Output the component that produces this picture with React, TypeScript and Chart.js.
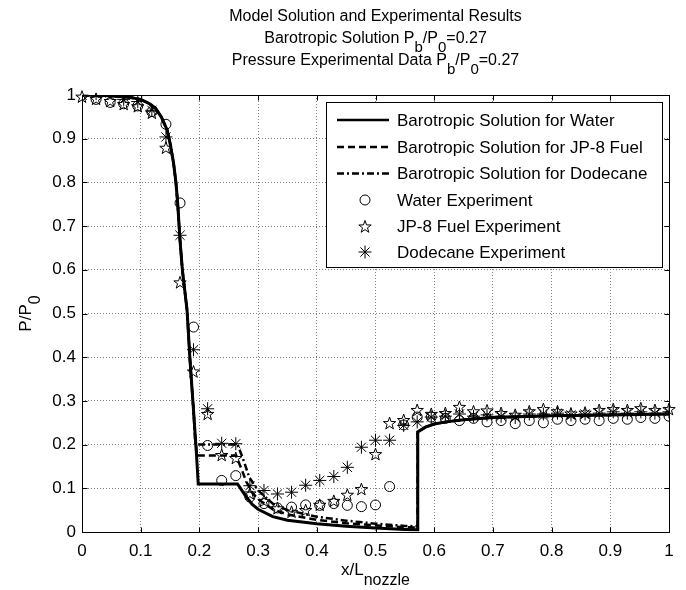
import React, { useEffect, useRef } from "react";
import { Chart, registerables } from "chart.js";

Chart.register(...registerables);

// ---------- data ----------
const SENSOR_X = [
  0, 0.024, 0.048, 0.071, 0.095, 0.119, 0.143, 0.167, 0.19, 0.214, 0.238, 0.262, 0.286, 0.31, 0.333,
  0.357, 0.381, 0.405, 0.429, 0.452, 0.476, 0.5, 0.524, 0.548, 0.571, 0.595, 0.619, 0.643, 0.667, 0.69,
  0.714, 0.738, 0.762, 0.786, 0.81, 0.833, 0.857, 0.881, 0.905, 0.929, 0.952, 0.976, 1.0,
];
const WATER_EXP = [
  1.0, 0.99, 0.983, 0.98, 0.975, 0.962, 0.933, 0.753, 0.469, 0.198, 0.118, 0.129, 0.08, 0.065, 0.055,
  0.057, 0.062, 0.061, 0.065, 0.061, 0.058, 0.062, 0.104, 0.245, 0.263, 0.263, 0.26, 0.255, 0.26, 0.252,
  0.255, 0.248, 0.255, 0.25, 0.258, 0.255, 0.258, 0.255, 0.26, 0.258, 0.262, 0.26, 0.265,
];
const JP8_EXP = [
  0.995, 0.99, 0.985, 0.978, 0.973, 0.958, 0.878, 0.57, 0.366, 0.269, 0.175, 0.168, 0.087, 0.07, 0.053,
  0.045, 0.049, 0.061, 0.07, 0.084, 0.097, 0.177, 0.248, 0.255, 0.278, 0.269, 0.271, 0.285, 0.275, 0.277,
  0.271, 0.267, 0.275, 0.28, 0.275, 0.27, 0.272, 0.278, 0.28, 0.278, 0.282, 0.278, 0.28,
];
const DODECANE_EXP = [
  1.0, 1.003, 1.005, 0.99, 0.985, 0.965, 0.904, 0.679, 0.417, 0.282, 0.203, 0.202, 0.106, 0.095, 0.087,
  0.091, 0.107, 0.118, 0.127, 0.148, 0.194, 0.21, 0.21, 0.244, 0.252, 0.263, 0.265, 0.27, 0.265, 0.268,
  0.265, 0.262, 0.27, 0.27, 0.272, 0.268, 0.27, 0.272, 0.275, 0.272, 0.275, 0.272, 0.275,
];

const WATER_MODEL_X = [
  0, 0.05, 0.08, 0.1, 0.115, 0.125, 0.135, 0.145, 0.15, 0.156, 0.16, 0.163, 0.167, 0.171, 0.179, 0.184,
  0.19, 0.195, 0.198, 0.265, 0.27, 0.28, 0.29, 0.3, 0.325, 0.35, 0.4, 0.45, 0.5, 0.55, 0.572, 0.572,
  0.585, 0.6, 0.62, 0.65, 0.7, 0.8, 0.9, 1.0,
];
const WATER_MODEL_Y = [
  1.0, 0.998, 0.995, 0.99, 0.98, 0.97, 0.95, 0.92, 0.89, 0.844, 0.8, 0.752, 0.667, 0.6, 0.507, 0.393,
  0.278, 0.179, 0.11, 0.11, 0.1, 0.08, 0.063, 0.052, 0.035, 0.027, 0.019, 0.013, 0.009, 0.006, 0.005, 0.229,
  0.24, 0.247, 0.252, 0.257, 0.262, 0.266, 0.268, 0.27,
];
const JP8_MODEL_X = [
  0, 0.05, 0.08, 0.1, 0.115, 0.125, 0.135, 0.145, 0.15, 0.156, 0.16, 0.163, 0.167, 0.171, 0.179, 0.184,
  0.19, 0.194, 0.196, 0.262, 0.27, 0.28, 0.29, 0.3, 0.325, 0.35, 0.4, 0.45, 0.5, 0.55, 0.572, 0.572,
  0.585, 0.6, 0.62, 0.65, 0.7, 0.8, 0.9, 1.0,
];
const JP8_MODEL_Y = [
  1.0, 0.998, 0.995, 0.99, 0.98, 0.97, 0.95, 0.92, 0.89, 0.844, 0.8, 0.752, 0.667, 0.6, 0.507, 0.393,
  0.278, 0.2, 0.175, 0.175, 0.15, 0.115, 0.09, 0.075, 0.052, 0.04, 0.028, 0.02, 0.015, 0.011, 0.01, 0.229,
  0.24, 0.247, 0.252, 0.257, 0.262, 0.266, 0.268, 0.27,
];
const DODECANE_MODEL_X = [
  0, 0.05, 0.08, 0.1, 0.115, 0.125, 0.135, 0.145, 0.15, 0.156, 0.16, 0.163, 0.167, 0.171, 0.179, 0.184,
  0.19, 0.193, 0.265, 0.275, 0.285, 0.3, 0.325, 0.35, 0.4, 0.45, 0.5, 0.55, 0.572, 0.572,
  0.585, 0.6, 0.62, 0.65, 0.7, 0.8, 0.9, 1.0,
];
const DODECANE_MODEL_Y = [
  1.0, 0.998, 0.995, 0.99, 0.98, 0.97, 0.95, 0.92, 0.89, 0.844, 0.8, 0.752, 0.667, 0.6, 0.507, 0.393,
  0.278, 0.2, 0.2, 0.165, 0.125, 0.095, 0.065, 0.05, 0.035, 0.026, 0.019, 0.014, 0.013, 0.229,
  0.24, 0.247, 0.252, 0.257, 0.262, 0.266, 0.268, 0.27,
];

const X_TICKS = [0, 0.1, 0.2, 0.3, 0.4, 0.5, 0.6, 0.7, 0.8, 0.9, 1];
const X_TICK_LABELS = ["0", "0.1", "0.2", "0.3", "0.4", "0.5", "0.6", "0.7", "0.8", "0.9", "1"];
const Y_TICKS = [0, 0.1, 0.2, 0.3, 0.4, 0.5, 0.6, 0.7, 0.8, 0.9, 1];
const Y_TICK_LABELS = ["0", "0.1", "0.2", "0.3", "0.4", "0.5", "0.6", "0.7", "0.8", "0.9", "1"];

type Seg = [string, boolean];
const TITLE_LINES: Seg[][] = [
  [["Model Solution and Experimental Results", false]],
  [["Barotropic Solution P", false], ["b", true], ["/P", false], ["0", true], ["=0.27", false]],
  [["Pressure Experimental Data P", false], ["b", true], ["/P", false], ["0", true], ["=0.27", false]],
];
const X_LABEL: Seg[] = [["x/L", false], ["nozzle", true]];
const Y_LABEL: Seg[] = [["P/P", false], ["0", true]];

const SERIES_NAMES = [
  "Barotropic Solution for Water",
  "Barotropic Solution for JP-8 Fuel",
  "Barotropic Solution for Dodecane",
  "Water Experiment",
  "JP-8 Fuel Experiment",
  "Dodecane Experiment",
];

// ---------- styling helpers ----------
const FONT = '"Liberation Sans", Arial, Helvetica, sans-serif';
const DASH = [7, 4];
const DASHDOT = [7, 3, 2, 3];
const PENTA_INDEX = 4;

function drawPentagram(ctx: CanvasRenderingContext2D, cx: number, cy: number, r: number) {
  const ri = r * 0.4;
  ctx.save();
  ctx.beginPath();
  for (let k = 0; k < 10; k++) {
    const ang = -Math.PI / 2 + (k * Math.PI) / 5;
    const rr = k % 2 === 0 ? r : ri;
    const px = cx + rr * Math.cos(ang);
    const py = cy + rr * Math.sin(ang);
    if (k === 0) ctx.moveTo(px, py);
    else ctx.lineTo(px, py);
  }
  ctx.closePath();
  ctx.strokeStyle = "#000";
  ctx.lineWidth = 1;
  ctx.setLineDash([]);
  ctx.stroke();
  ctx.restore();
}

function drawAsterisk(ctx: CanvasRenderingContext2D, cx: number, cy: number, r: number) {
  ctx.save();
  ctx.strokeStyle = "#000";
  ctx.lineWidth = 1;
  ctx.setLineDash([]);
  ctx.beginPath();
  for (let k = 0; k < 4; k++) {
    const a = (k * Math.PI) / 4;
    ctx.moveTo(cx - r * Math.cos(a), cy - r * Math.sin(a));
    ctx.lineTo(cx + r * Math.cos(a), cy + r * Math.sin(a));
  }
  ctx.stroke();
  ctx.restore();
}

function drawCircle(ctx: CanvasRenderingContext2D, cx: number, cy: number, r: number) {
  ctx.save();
  ctx.strokeStyle = "#000";
  ctx.lineWidth = 1;
  ctx.setLineDash([]);
  ctx.beginPath();
  ctx.arc(cx, cy, r, 0, Math.PI * 2);
  ctx.stroke();
  ctx.restore();
}

function drawRich(
  ctx: CanvasRenderingContext2D,
  segs: Seg[],
  x: number,
  y: number,
  size: number,
  subSize: number,
  subShift: number
) {
  const widths = segs.map(([t, sub]) => {
    ctx.font = `${sub ? subSize : size}px ${FONT}`;
    return ctx.measureText(t).width;
  });
  const total = widths.reduce((a, b) => a + b, 0);
  let cx = x - total / 2;
  ctx.textAlign = "left";
  ctx.textBaseline = "alphabetic";
  ctx.fillStyle = "#000";
  segs.forEach(([t, sub], i) => {
    ctx.font = `${sub ? subSize : size}px ${FONT}`;
    ctx.fillText(t, cx, sub ? y + subShift : y);
    cx += widths[i];
  });
}

const pentagramPlugin = {
  id: "pentagram",
  afterDatasetsDraw(chart: any) {
    const ctx: CanvasRenderingContext2D = chart.ctx;
    const meta = chart.getDatasetMeta(PENTA_INDEX);
    meta.data.forEach((el: any) => drawPentagram(ctx, el.x, el.y, 6.5));
  },
};

const decorPlugin = {
  id: "decor",
  afterDraw(chart: any) {
    const ctx: CanvasRenderingContext2D = chart.ctx;
    const area = chart.chartArea;
    const xs = chart.scales.x;
    const ys = chart.scales.y;
    const cxMid = (area.left + area.right) / 2;

    // frame + inward ticks
    ctx.save();
    ctx.strokeStyle = "#000";
    ctx.lineWidth = 1;
    ctx.setLineDash([]);
    const L = Math.round(area.left) + 0.5;
    const R = Math.round(area.right) + 0.5;
    const T = Math.round(area.top) + 0.5;
    const B = Math.round(area.bottom) + 0.5;
    ctx.strokeRect(L, T, R - L, B - T);
    const tl = 5;
    ctx.beginPath();
    X_TICKS.forEach((v) => {
      const px = Math.round(xs.getPixelForValue(v)) + 0.5;
      ctx.moveTo(px, B);
      ctx.lineTo(px, B - tl);
      ctx.moveTo(px, T);
      ctx.lineTo(px, T + tl);
    });
    Y_TICKS.forEach((v) => {
      const py = Math.round(ys.getPixelForValue(v)) + 0.5;
      ctx.moveTo(L, py);
      ctx.lineTo(L + tl, py);
      ctx.moveTo(R, py);
      ctx.lineTo(R - tl, py);
    });
    ctx.stroke();
    ctx.restore();

    // titles
    ctx.save();
    drawRich(ctx, TITLE_LINES[0], cxMid, 21, 16, 16, 9);
    drawRich(ctx, TITLE_LINES[1], cxMid, 43, 16, 15, 9);
    drawRich(ctx, TITLE_LINES[2], cxMid, 65, 16, 15, 9);
    drawRich(ctx, X_LABEL, cxMid, 575, 17, 16, 10);
    ctx.translate(31, (area.top + area.bottom) / 2);
    ctx.rotate(-Math.PI / 2);
    drawRich(ctx, Y_LABEL, 0, 0, 17, 16, 9);
    ctx.restore();

    // legend
    const lx = 326, ly = 102, lw = 336, lh = 165;
    ctx.save();
    ctx.fillStyle = "#fff";
    ctx.fillRect(lx, ly, lw, lh);
    ctx.strokeStyle = "#000";
    ctx.lineWidth = 1;
    ctx.strokeRect(lx + 0.5, ly + 0.5, lw, lh);
    const rowY = [120, 147, 173.5, 200, 226.5, 252];
    const dashes = [[], DASH, DASHDOT];
    for (let i = 0; i < 3; i++) {
      ctx.save();
      ctx.setLineDash(dashes[i]);
      ctx.lineWidth = 2.5;
      ctx.strokeStyle = "#000";
      ctx.beginPath();
      ctx.moveTo(337, rowY[i]);
      ctx.lineTo(389, rowY[i]);
      ctx.stroke();
      ctx.restore();
    }
    drawCircle(ctx, 365, rowY[3], 5);
    drawPentagram(ctx, 365, rowY[4] + 0.5, 6.5);
    drawAsterisk(ctx, 365, rowY[5], 6.5);
    ctx.fillStyle = "#000";
    ctx.font = `17px ${FONT}`;
    ctx.textAlign = "left";
    ctx.textBaseline = "middle";
    SERIES_NAMES.forEach((n, i) => ctx.fillText(n, 397, rowY[i] + 1));
    ctx.restore();
  },
};

function pts(xs: number[], ys: number[]) {
  return xs.map((x, i) => ({ x, y: ys[i] }));
}

export default function App() {
  const ref = useRef<HTMLCanvasElement | null>(null);

  useEffect(() => {
    if (!ref.current) return;
    const lineBase = { showLine: true, pointRadius: 0, borderColor: "#000", fill: false, tension: 0 };
    const chart = new Chart(ref.current, {
      type: "scatter",
      data: {
        datasets: [
          { ...lineBase, label: SERIES_NAMES[0], data: pts(WATER_MODEL_X, WATER_MODEL_Y), borderWidth: 3 },
          { ...lineBase, label: SERIES_NAMES[1], data: pts(JP8_MODEL_X, JP8_MODEL_Y), borderWidth: 2.5, borderDash: DASH },
          { ...lineBase, label: SERIES_NAMES[2], data: pts(DODECANE_MODEL_X, DODECANE_MODEL_Y), borderWidth: 2.5, borderDash: DASHDOT },
          {
            label: SERIES_NAMES[3],
            data: pts(SENSOR_X, WATER_EXP),
            pointStyle: "circle",
            pointRadius: 5,
            pointBorderWidth: 1,
            pointBorderColor: "#000",
            pointBackgroundColor: "rgba(0,0,0,0)",
            showLine: false,
          },
          {
            label: SERIES_NAMES[4],
            data: pts(SENSOR_X, JP8_EXP),
            pointStyle: "circle",
            pointRadius: 0,
            pointBorderWidth: 0,
            pointBorderColor: "rgba(0,0,0,0)",
            pointBackgroundColor: "rgba(0,0,0,0)",
            showLine: false,
          },
          {
            label: SERIES_NAMES[5],
            data: pts(SENSOR_X, DODECANE_EXP),
            pointStyle: "star",
            pointRadius: 6.5,
            pointBorderWidth: 1,
            pointBorderColor: "#000",
            pointBackgroundColor: "rgba(0,0,0,0)",
            showLine: false,
          },
        ] as any,
      },
      options: {
        responsive: false,
        animation: false,
        events: [],
        layout: { padding: { left: 0, right: 17, top: 95, bottom: 0 } },
        plugins: { legend: { display: false }, title: { display: false }, tooltip: { enabled: false } },
        scales: {
          x: {
            type: "linear",
            min: 0,
            max: 1,
            afterBuildTicks: (s: any) => {
              s.ticks = X_TICKS.map((v) => ({ value: v }));
            },
            afterFit: (s: any) => {
              s.height = 58;
            },
            ticks: {
              callback: (v: any) => X_TICK_LABELS[X_TICKS.indexOf(Number(v))],
              font: { family: FONT, size: 17 },
              color: "#000",
              padding: 9,
              maxRotation: 0,
              autoSkip: false,
            },
            grid: { color: "#808080", lineWidth: 1, drawTicks: false },
            border: { display: false, dash: [1, 2] },
          },
          y: {
            type: "linear",
            min: 0,
            max: 1,
            afterBuildTicks: (s: any) => {
              s.ticks = Y_TICKS.map((v) => ({ value: v }));
            },
            afterFit: (s: any) => {
              s.width = 82;
            },
            ticks: {
              callback: (v: any) => Y_TICK_LABELS[Y_TICKS.indexOf(Number(v))],
              font: { family: FONT, size: 17 },
              color: "#000",
              padding: 6,
              autoSkip: false,
            },
            grid: { color: "#808080", lineWidth: 1, drawTicks: false },
            border: { display: false, dash: [1, 2] },
          },
        },
      } as any,
      plugins: [pentagramPlugin, decorPlugin],
    });
    return () => chart.destroy();
  }, []);

  return (
    <div style={{ position: "fixed", left: 0, top: 0, width: 686, height: 590, background: "#fff" }}>
      <canvas ref={ref} width={686} height={590} style={{ display: "block", width: 686, height: 590 }} />
    </div>
  );
}
